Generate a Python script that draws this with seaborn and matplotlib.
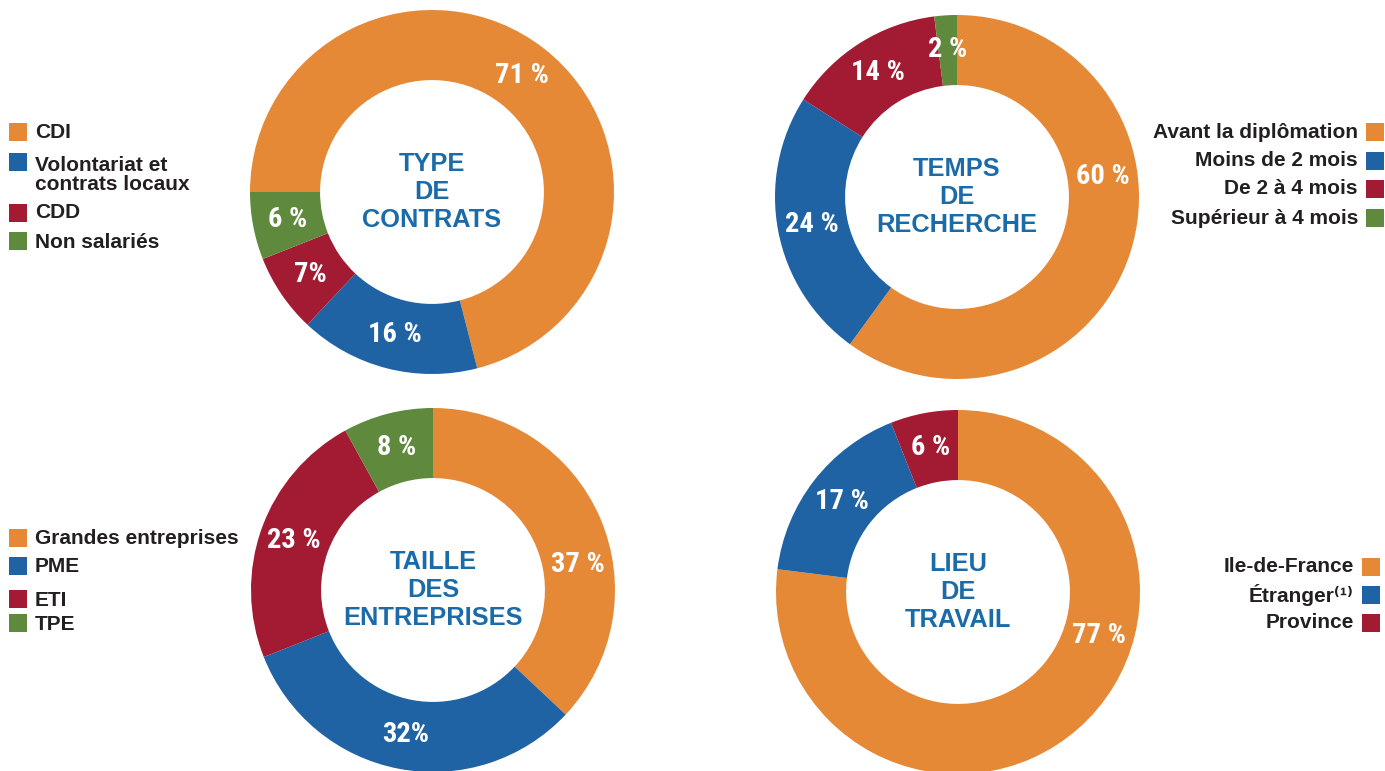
import numpy as np
import matplotlib
matplotlib.use("Agg")
import matplotlib.pyplot as plt
from matplotlib import font_manager
from matplotlib.font_manager import FontProperties
import seaborn as sns

# ---------------- data ----------------
contrat_labels = ["CDI", "Volontariat et\ncontrats locaux", "CDD", "Non salariés"]
contrat_values = [71, 16, 7, 6]
contrat_texts = ["71 %", "16 %", "7%", "6 %"]

recherche_labels = ["Avant la diplômation", "Moins de 2 mois", "De 2 à 4 mois", "Supérieur à 4 mois"]
recherche_values = [60, 24, 14, 2]
recherche_texts = ["60 %", "24 %", "14 %", "2 %"]

taille_labels = ["Grandes entreprises", "PME", "ETI", "TPE"]
taille_values = [37, 32, 23, 8]
taille_texts = ["37 %", "32%", "23 %", "8 %"]

lieu_labels = ["Ile-de-France", "Étranger⁽¹⁾", "Province"]
lieu_values = [77, 17, 6]
lieu_texts = ["77 %", "17 %", "6 %"]

titles = ["TYPE\nDE\nCONTRATS", "TEMPS\nDE\nRECHERCHE",
          "TAILLE\nDES\nENTREPRISES", "LIEU\nDE\nTRAVAIL"]

# ---------------- style ----------------
sns.set_theme(style="white")
palette = sns.color_palette(["#E58936", "#1F63A5", "#A21B32", "#5F893C"])
TITLE_BLUE = "#1A6BA8"
DARK = "#231F20"

BASE = ["Liberation Sans", "DejaVu Sans"]
plt.rcParams["font.family"] = BASE

names = {f.name for f in font_manager.fontManager.ttflist}
pct_prop = FontProperties(family=BASE, weight="bold", size=18.5)
for cand in ["Liberation Sans Narrow", "Roboto Condensed", "Arial Narrow"]:
    if cand in names:
        pct_prop = FontProperties(family=[cand, "DejaVu Sans"], weight="bold", size=20.5)
        break

W, H = 1385, 771
fig = plt.figure(figsize=(W / 100, H / 100), dpi=100)
fig.patch.set_facecolor("white")

R_PX = 182.0
HALF = 200.0

panels = [
    dict(values=contrat_values, texts=contrat_texts, labels=contrat_labels, title=titles[0],
         center=(432, 192), start=180, big_frac=0.5,
         legend=dict(side="left", x=9, rows=[132, 162, 213, 241],
                     textrows=[133, 175, 213, 242])),
    dict(values=recherche_values, texts=recherche_texts, labels=recherche_labels, title=titles[1],
         center=(957, 197), start=90, big_frac=0.38,
         legend=dict(side="right", x=1366, rows=[132, 161, 189, 218],
                     textrows=[133, 161, 189, 218])),
    dict(values=taille_values, texts=taille_texts, labels=taille_labels, title=titles[2],
         center=(433, 590), start=90, big_frac=0.6,
         legend=dict(side="left", x=9, rows=[538, 566, 599, 623],
                     textrows=[538, 566, 600, 624])),
    dict(values=lieu_values, texts=lieu_texts, labels=lieu_labels, title=titles[3],
         center=(958, 592), start=90, big_frac=0.386,
         legend=dict(side="right", x=1362, rows=[567, 595, 623],
                     textrows=[567, 595, 623])),
]

lim = HALF / R_PX
for p in panels:
    cx, cy = p["center"]
    ax = fig.add_axes([(cx - HALF) / W, 1 - (cy + HALF) / H, 2 * HALF / W, 2 * HALF / H])
    ax.axis("off")
    n = len(p["values"])
    wedges, _ = ax.pie(p["values"], colors=palette[:n], startangle=p["start"],
                       counterclock=False, radius=1.0,
                       wedgeprops=dict(width=0.385, linewidth=0))
    ax.set_xlim(-lim, lim)
    ax.set_ylim(-lim, lim)
    ax.set_aspect("equal")
    for i, (w, t) in enumerate(zip(wedges, p["texts"])):
        frac = p["big_frac"] if i == 0 else 0.5
        ang = np.deg2rad(w.theta2 - frac * (w.theta2 - w.theta1))
        r = 0.81
        ax.text(r * np.cos(ang), r * np.sin(ang), t, ha="center", va="center",
                color="white", fontproperties=pct_prop)
    ax.text(0, 0, p["title"], ha="center", va="center", color=TITLE_BLUE,
            fontsize=18.3, fontweight="bold", linespacing=1.22, multialignment="center")

    # legend
    lg = p["legend"]
    sq = 18
    for i, (lab, ry, ty) in enumerate(zip(p["labels"], lg["rows"], lg["textrows"])):
        x0 = lg["x"]
        fig.patches.append(matplotlib.patches.Rectangle(
            (x0 / W, 1 - (ry + sq / 2) / H), sq / W, sq / H,
            transform=fig.transFigure, facecolor=palette[i], edgecolor="none"))
        if lg["side"] == "left":
            fig.text((x0 + sq + 8) / W, 1 - ty / H, lab, ha="left", va="center",
                     color=DARK, fontsize=15, fontweight="bold", linespacing=1.05,
                     family=BASE)
        else:
            fig.text((x0 - 8) / W, 1 - ty / H, lab, ha="right", va="center",
                     color=DARK, fontsize=15, fontweight="bold", family=BASE)

fig.savefig("out.png", dpi=100, facecolor="white")
